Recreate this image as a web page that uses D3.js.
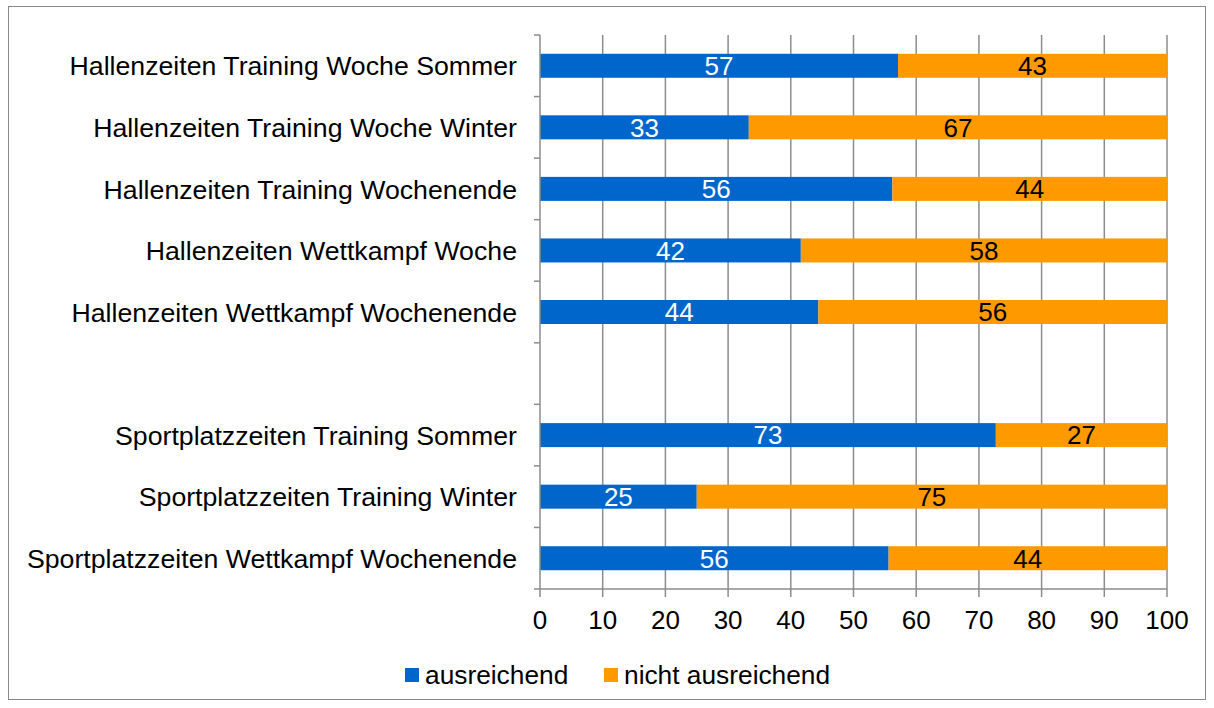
<!DOCTYPE html>
<html>
<head>
<meta charset="utf-8">
<script src="https://cdn.jsdelivr.net/npm/d3@7"></script>
<style>
  body { margin: 0; background: #fff; }
  text { font-family: "Liberation Sans", Arial, sans-serif; }
</style>
</head>
<body>
<svg id="chart" width="1214" height="708"></svg>
<script>
// categories (blank slot separates the two groups)
var categories = [
  "Hallenzeiten Training Woche Sommer",
  "Hallenzeiten Training Woche Winter",
  "Hallenzeiten Training Wochenende",
  "Hallenzeiten Wettkampf Woche",
  "Hallenzeiten Wettkampf Wochenende",
  " ",
  "Sportplatzzeiten Training Sommer",
  "Sportplatzzeiten Training Winter",
  "Sportplatzzeiten Wettkampf Wochenende"
];
// percentages (labels show them rounded)
var ausreichend =        [57.1, 33.3, 56.2, 41.6, 44.4, null, 72.7, 25.0, 55.6];
var nichtAusreichend =   [42.9, 66.7, 43.8, 58.4, 55.6, null, 27.3, 75.0, 44.4];
var seriesNames = ["ausreichend", "nicht ausreichend"];
var xTicks = [0, 10, 20, 30, 40, 50, 60, 70, 80, 90, 100];

var svg = d3.select("#chart");
var colors = ["#0066CC", "#FF9900"];
var fs = 26;

// outer frame
svg.append("rect")
    .attr("x", 8.5).attr("y", 6.5)
    .attr("width", 1197).attr("height", 693)
    .attr("fill", "none")
    .attr("stroke", "#888");

var pLeft = 540, pRight = 1167, pTop = 35, pBottom = 589;

var x = d3.scaleLinear().domain([0, 100]).range([pLeft, pRight]);
var y = d3.scaleBand().domain(categories).range([pTop, pBottom]).paddingInner(0.61).paddingOuter(0.305);
var band = (pBottom - pTop) / categories.length;

// vertical grid lines
svg.append("g").selectAll("line")
    .data(xTicks.slice(1))
    .enter().append("line")
    .attr("x1", function(d){ return x(d); })
    .attr("x2", function(d){ return x(d); })
    .attr("y1", pTop).attr("y2", pBottom)
    .attr("stroke", "#8c8c8c")
    .attr("stroke-width", 1.5);

// stacked bars
var rows = categories.map(function(c, i){
  return { cat: c, a: ausreichend[i], b: nichtAusreichend[i] };
}).filter(function(d){ return d.a != null; });

var g = svg.append("g");
rows.forEach(function(d){
  var segs = [
    { x0: 0, x1: d.a, v: d.a, c: colors[0], t: "#fff" },
    { x0: d.a, x1: d.a + d.b, v: d.b, c: colors[1], t: "#000" }
  ];
  segs.forEach(function(s){
    g.append("rect")
        .attr("x", x(s.x0))
        .attr("y", y(d.cat))
        .attr("width", x(s.x1) - x(s.x0))
        .attr("height", y.bandwidth())
        .attr("fill", s.c);
    g.append("text")
        .attr("x", (x(s.x0) + x(s.x1)) / 2)
        .attr("y", y(d.cat) + y.bandwidth() / 2)
        .attr("dy", "0.36em")
        .attr("text-anchor", "middle")
        .attr("font-size", fs)
        .attr("fill", s.t)
        .text(Math.round(s.v));
  });
});

// y axis line and ticks at band boundaries
svg.append("line")
    .attr("x1", pLeft).attr("x2", pLeft)
    .attr("y1", pTop).attr("y2", pBottom)
    .attr("stroke", "#8c8c8c").attr("stroke-width", 1.5);
svg.append("g").selectAll("line")
    .data(d3.range(categories.length + 1))
    .enter().append("line")
    .attr("x1", pLeft - 6).attr("x2", pLeft)
    .attr("y1", function(i){ return pTop + i * band; })
    .attr("y2", function(i){ return pTop + i * band; })
    .attr("stroke", "#8c8c8c").attr("stroke-width", 1.5);

// category labels
svg.append("g").selectAll("text")
    .data(categories)
    .enter().append("text")
    .attr("x", 517)
    .attr("y", function(d){ return y(d) + y.bandwidth() / 2; })
    .attr("dy", "0.36em")
    .attr("text-anchor", "end")
    .attr("font-size", 26.7)
    .attr("fill", "#000")
    .text(function(d){ return d; });

// x axis
svg.append("line")
    .attr("x1", pLeft).attr("x2", pRight)
    .attr("y1", pBottom).attr("y2", pBottom)
    .attr("stroke", "#8c8c8c").attr("stroke-width", 1.5);
svg.append("g").selectAll("line")
    .data(xTicks)
    .enter().append("line")
    .attr("x1", function(d){ return x(d); })
    .attr("x2", function(d){ return x(d); })
    .attr("y1", pBottom).attr("y2", pBottom + 8)
    .attr("stroke", "#8c8c8c").attr("stroke-width", 1.5);
svg.append("g").selectAll("text")
    .data(xTicks)
    .enter().append("text")
    .attr("x", function(d){ return x(d); })
    .attr("y", 629)
    .attr("text-anchor", "middle")
    .attr("font-size", fs)
    .attr("fill", "#000")
    .text(function(d){ return d; });

// legend
var legendX = [405, 604];
var legend = svg.append("g");
seriesNames.forEach(function(n, i){
  legend.append("rect")
      .attr("x", legendX[i]).attr("y", 668)
      .attr("width", 14).attr("height", 14)
      .attr("fill", colors[i]);
  legend.append("text")
      .attr("x", legendX[i] + 20).attr("y", 675)
      .attr("dy", "0.36em")
      .attr("font-size", 26.3)
      .attr("fill", "#000")
      .text(n);
});
</script>
</body>
</html>
